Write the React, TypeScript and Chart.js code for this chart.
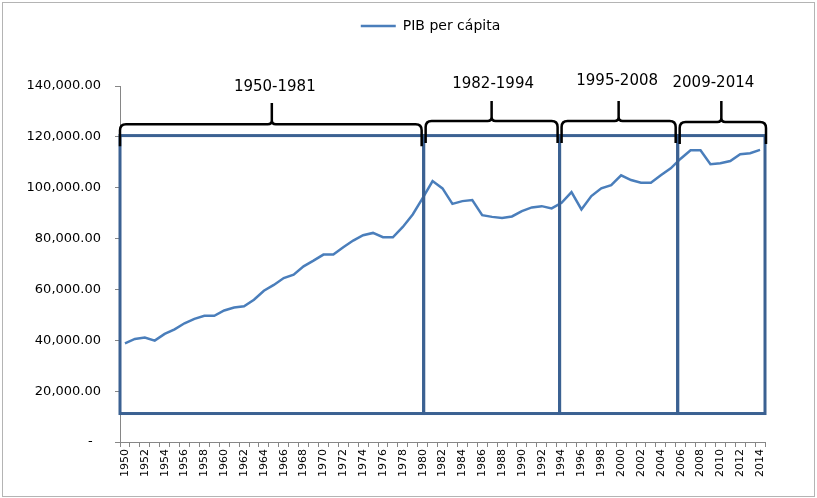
import { useEffect, useRef } from 'react';
import { Chart, registerables } from 'chart.js';

Chart.register(...registerables);

const years = [
  '1950','1951','1952','1953','1954','1955','1956','1957','1958','1959',
  '1960','1961','1962','1963','1964','1965','1966','1967','1968','1969',
  '1970','1971','1972','1973','1974','1975','1976','1977','1978','1979',
  '1980','1981','1982','1983','1984','1985','1986','1987','1988','1989',
  '1990','1991','1992','1993','1994','1995','1996','1997','1998','1999',
  '2000','2001','2002','2003','2004','2005','2006','2007','2008','2009',
  '2010','2011','2012','2013','2014',
];

const pibPerCapita = [
  38800, 40540, 41050, 39860, 42510, 44320, 46690, 48430, 49610, 49610,
  51710, 52890, 53400, 55930, 59480, 61770, 64460, 65800, 69070, 71320,
  73690, 73690, 76570, 79220, 81310, 82220, 80520, 80520, 84580, 89480,
  95910, 102620, 99740, 93660, 94730, 95120, 89200, 88530, 88140, 88690,
  90780, 92240, 92750, 91850, 94060, 98280, 91450, 96700, 99740, 101040,
  104870, 103020, 101950, 101950, 104870, 107630, 111420, 114740, 114740, 109210,
  109610, 110520, 113160, 113550, 114860,
];

// Period annotations (in data units: years and PIB values)
const periodLabels = ['1950-1981', '1982-1994', '1995-2008', '2009-2014'];
const periodEdges = [1949.5, 1980.1, 1993.8, 2005.7, 2014.5];
const boxTop = 120500;
const boxBottom = 11200;
const braceBase = [125000, 126200, 126200, 125800];
const braceTip = [133300, 134100, 134100, 134100];
const braceLabelYear = [1965.1, 1987.1, 1999.6, 2009.3];
const braceLabelValue = [139600, 140800, 142000, 141300];

const yTickStep = 20000;
const yMax = 140000;

const FONT = 'DejaVu Sans';
const LEGEND_SHIFT = 48;

function drawBrace(ctx: CanvasRenderingContext2D, x0: number, x1: number, xt: number, yBase: number, yTip: number) {
  const drop = 22;
  const r = 6;
  const r2 = 4;
  ctx.beginPath();
  ctx.moveTo(x0, yBase + drop);
  ctx.lineTo(x0, yBase + r);
  ctx.quadraticCurveTo(x0, yBase, x0 + r, yBase);
  ctx.lineTo(xt - r2, yBase);
  ctx.quadraticCurveTo(xt, yBase, xt, yBase - r2);
  ctx.lineTo(xt, yTip);
  ctx.moveTo(xt, yBase - r2);
  ctx.quadraticCurveTo(xt, yBase, xt + r2, yBase);
  ctx.lineTo(x1 - r, yBase);
  ctx.quadraticCurveTo(x1, yBase, x1, yBase + r);
  ctx.lineTo(x1, yBase + drop);
  ctx.stroke();
}

const periodsPlugin = {
  id: 'periods',
  afterLayout(chart: any) {
    if (chart.legend) {
      chart.legend.left += LEGEND_SHIFT;
      chart.legend.right += LEGEND_SHIFT;
    }
  },
  beforeDraw(chart: any) {
    const ctx = chart.ctx as CanvasRenderingContext2D;
    ctx.save();
    ctx.fillStyle = '#ffffff';
    ctx.fillRect(0, 0, chart.width, chart.height);
    ctx.strokeStyle = '#b4b4b4';
    ctx.lineWidth = 1;
    ctx.strokeRect(2.5, 2.5, chart.width - 5, chart.height - 4);
    ctx.restore();
  },
  afterDatasetsDraw(chart: any) {
    const ctx = chart.ctx as CanvasRenderingContext2D;
    const x = chart.scales.x;
    const y = chart.scales.y;
    const base = 1950;
    ctx.save();
    const yt = y.getPixelForValue(boxTop);
    const yb = y.getPixelForValue(boxBottom);
    ctx.strokeStyle = '#3b6192';
    ctx.lineWidth = 3;
    for (let i = 0; i < periodLabels.length; i++) {
      const x0 = x.getPixelForValue(periodEdges[i] - base);
      const x1 = x.getPixelForValue(periodEdges[i + 1] - base);
      ctx.strokeRect(x0, yt, x1 - x0, yb - yt);
    }
    ctx.strokeStyle = '#000000';
    ctx.lineWidth = 2.5;
    ctx.lineJoin = 'round';
    ctx.lineCap = 'butt';
    for (let i = 0; i < periodLabels.length; i++) {
      const x0 = x.getPixelForValue(periodEdges[i] - base) + (i === 0 ? 0 : 2);
      const x1 = x.getPixelForValue(periodEdges[i + 1] - base) - (i === periodLabels.length - 1 ? -1 : 2);
      const xt = (x.getPixelForValue(periodEdges[i] - base) + x.getPixelForValue(periodEdges[i + 1] - base)) / 2;
      drawBrace(ctx, x0, x1, xt, y.getPixelForValue(braceBase[i]), y.getPixelForValue(braceTip[i]));
    }
    ctx.fillStyle = '#000000';
    ctx.font = `15px "${FONT}"`;
    ctx.textAlign = 'center';
    ctx.textBaseline = 'middle';
    for (let i = 0; i < periodLabels.length; i++) {
      ctx.fillText(periodLabels[i], x.getPixelForValue(braceLabelYear[i] - base), y.getPixelForValue(braceLabelValue[i]));
    }
    ctx.restore();
  },
};

export default function App() {
  const ref = useRef<HTMLCanvasElement>(null);
  useEffect(() => {
    document.body.style.margin = '0';
    Chart.defaults.font.family = FONT;
    const chart = new Chart(ref.current as HTMLCanvasElement, {
      type: 'line',
      data: {
        labels: years,
        datasets: [
          {
            label: 'PIB per cápita',
            data: pibPerCapita,
            borderColor: '#4a7ebb',
            backgroundColor: '#4a7ebb',
            borderWidth: 2.5,
            pointRadius: 0,
            pointHoverRadius: 0,
            tension: 0,
            pointStyle: 'line',
          },
        ],
      },
      options: {
        animation: false,
        responsive: true,
        maintainAspectRatio: false,
        layout: { padding: { top: 9, left: 0, right: 52, bottom: 0 } },
        plugins: {
          tooltip: { enabled: false },
          legend: {
            display: true,
            position: 'top',
            labels: {
              usePointStyle: true,
              pointStyleWidth: 35,
              boxHeight: 14,
              padding: 10,
              color: '#000000',
              font: { family: FONT, size: 14 },
            },
          },
          title: {
            display: true,
            text: '',
            position: 'top',
            weight: 500,
            font: { size: 10 },
            padding: { top: 31, bottom: 0 },
          } as any,
        },
        scales: {
          x: {
            type: 'category',
            offset: true,
            afterFit: (s: any) => { s.height = 56; },
            grid: {
              display: true,
              offset: true,
              drawOnChartArea: false,
              drawTicks: true,
              tickLength: 5,
              color: '#868686',
            },
            border: { display: true, color: '#868686', width: 1 },
            ticks: {
              autoSkip: false,
              maxRotation: 90,
              minRotation: 90,
              padding: 2,
              color: '#000000',
              font: { family: FONT, size: 11 },
              callback: (_v: any, i: number) => (i % 2 === 0 ? years[i] : ''),
            },
          },
          y: {
            min: 0,
            max: yMax,
            afterFit: (s: any) => { s.width = 120; },
            grid: {
              display: true,
              drawOnChartArea: false,
              drawTicks: true,
              tickLength: 5,
              color: '#868686',
            },
            border: { display: true, color: '#868686', width: 1 },
            ticks: {
              stepSize: yTickStep,
              padding: 14,
              color: '#000000',
              font: { family: FONT, size: 13 },
              callback: (v: any) =>
                Number(v) === 0
                  ? '-  '
                  : Number(v).toLocaleString('en-US', { minimumFractionDigits: 2, maximumFractionDigits: 2 }),
            },
          },
        },
      },
      plugins: [periodsPlugin],
    } as any);
    return () => chart.destroy();
  }, []);
  return (
    <div style={{ width: 817, height: 498, position: 'relative' }}>
      <canvas ref={ref} />
    </div>
  );
}
